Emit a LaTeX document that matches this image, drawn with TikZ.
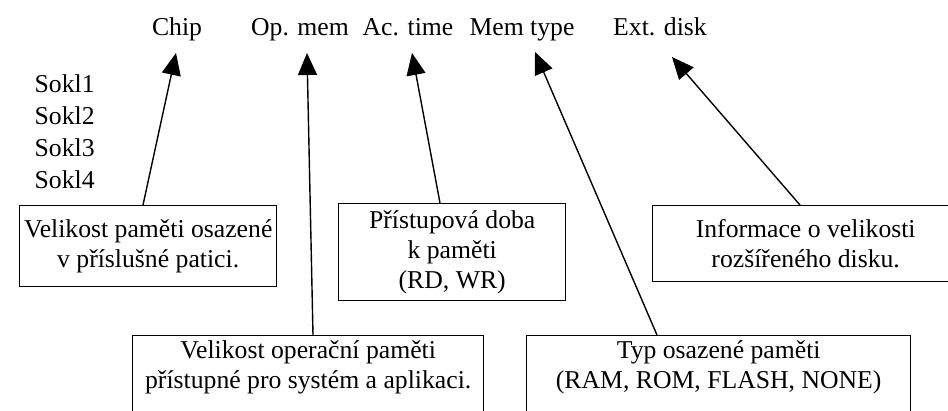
\documentclass[tikz,border=0pt]{standalone}
\usepackage{fontspec}
\setmainfont{Liberation Serif}
\usetikzlibrary{arrows.meta}

\begin{document}
\begin{tikzpicture}[
            x=1pt, y=-1pt, % pixel grid, y goes down
            -{Triangle[length=22pt, width=19pt]}, % arrow head style
            line width=1.4pt, % line style
            font=\fontsize{25.7pt}{30pt}\selectfont,
            lbl/.style={anchor=base, inner sep=0pt},
            box/.style={draw, rectangle, anchor=north west, align=center, inner sep=0pt}
            ]
            \useasboundingbox (0,0) rectangle (948,410);

            % column heads
            \node[lbl] (1) at (177,35) {Chip};
            \node[lbl] (2) at (300,35) {Op. mem};
            \node[lbl] (3) at (408,35) {Ac. time};
            \node[lbl] (4) at (522,35) {Mem type};
            \node[lbl] (5) at (660,35) {Ext. disk};

            % sockets
            \node[lbl, anchor=base west] (6) at (34,92) {Sokl1};
            \node[lbl, anchor=base west] (7) at (34,124) {Sokl2};
            \node[lbl, anchor=base west] (8) at (34,156) {Sokl3};
            \node[lbl, anchor=base west] (9) at (34,188) {Sokl4};

            % notes
            \node[box, minimum width=257pt, minimum height=81pt] (10) at (19,205)
            {Velikost paměti osazené\\v příslušné patici.};
            \node[box, minimum width=227pt, minimum height=97pt] (11) at (338,203)
            {Přístupová doba\\k paměti\\(RD, WR)};
            \node[box, minimum width=306pt, minimum height=76pt] (12) at (652,205)
            {Informace o velikosti\\rozšířeného disku.};
            \node[box, minimum width=351pt, minimum height=97pt] (13) at (132,335)
            {Velikost operační paměti\\přístupné pro systém a aplikaci.\\\strut};
            \node[box, minimum width=384pt, minimum height=97pt] (14) at (526,335)
            {Typ osazené paměti\\(RAM, ROM, FLASH, NONE)\\\strut};

            % \draw (10) -- (1);
            \draw ([xshift=124pt]10.north west) -- ([xshift=-1pt, yshift=-18pt]1.base);
            \draw ([xshift=181pt]13.north west) -- ([xshift=7pt, yshift=-18pt]2.base);
            \draw ([xshift=102pt]11.north west) -- ([xshift=4pt, yshift=-18pt]3.base);
            \draw ([xshift=131pt]14.north west) -- ([xshift=13pt, yshift=-17pt]4.base);
            \draw ([xshift=148pt]12.north west) -- ([xshift=12pt, yshift=-22pt]5.base);
        \end{tikzpicture}
\end{document}
